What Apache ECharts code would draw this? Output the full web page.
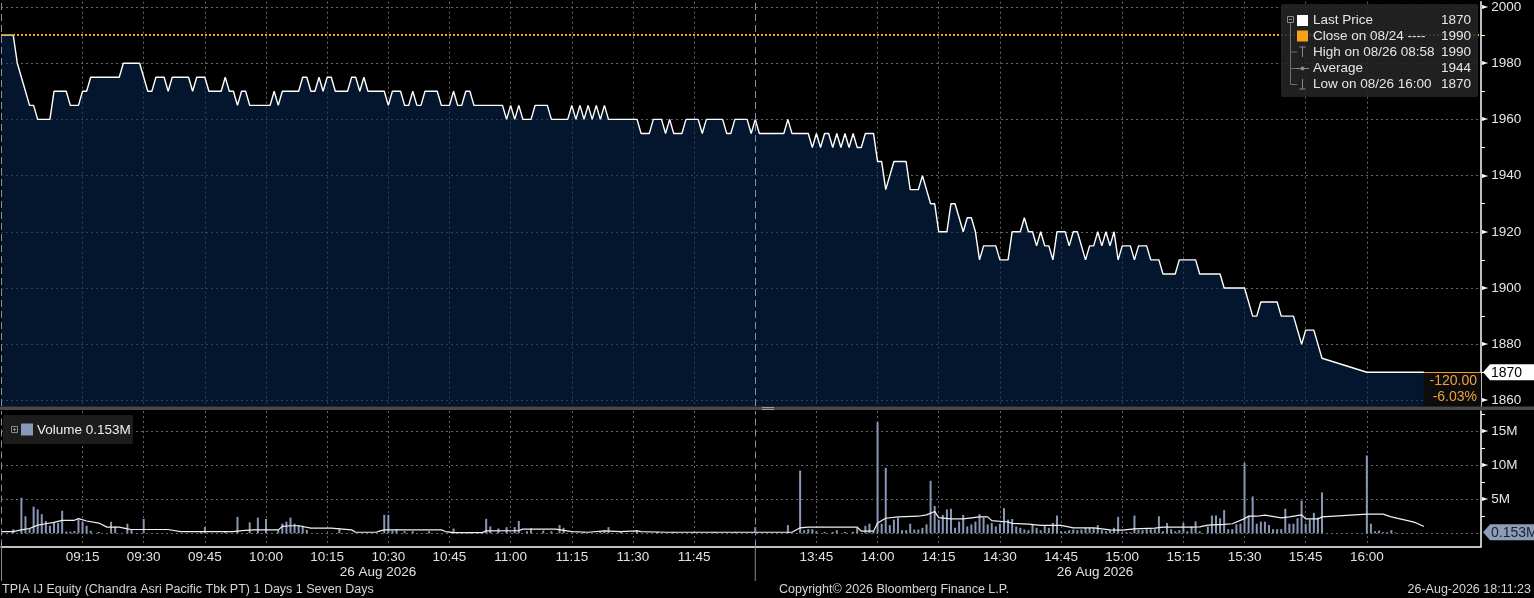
<!DOCTYPE html>
<html>
<head>
<meta charset="utf-8">
<script src="https://cdn.jsdelivr.net/npm/echarts@6.0.0/dist/echarts.min.js"></script>
<style>
    html, body { margin: 0; padding: 0; background: #000; }
    #chart { width: 1534px; height: 598px; }
</style>
</head>
<body>
<div id="chart"></div>
<script type="text/javascript">
    // trading sessions (lunch break removed from the axis)
    var sessions = [['08:55', '11:59'], ['13:30', '16:28']];
    var tickLabels = ['09:15','09:30','09:45','10:00','10:15','10:30','10:45','11:00','11:15','11:30','11:45',
                      '13:45','14:00','14:15','14:30','14:45','15:00','15:15','15:30','15:45','16:00'];

    var prevClose = 1990, lastPrice = 1870, avgPrice = 1944, lastVolume = 0.153;

    // last price, morning session
    var priceAM = [['08:55',1990],['08:58',1990],['08:59',1980],['09:00',1975],['09:01',1970],['09:02',1965],['09:03',1965],
        ['09:04',1960],['09:07',1960],['09:08',1970],['09:11',1970],['09:12',1965],['09:14',1965],['09:15',1970],['09:16',1970],
        ['09:17',1975],['09:24',1975],['09:25',1980],['09:29',1980],['09:30',1975],['09:31',1970],['09:32',1970],['09:33',1975],
        ['09:35',1975],['09:36',1970],['09:37',1975],['09:41',1975],['09:42',1970],['09:43',1975],['09:45',1975],['09:46',1970],
        ['09:49',1970],['09:50',1975],['09:51',1970],['09:52',1970],['09:53',1965],['09:54',1970],['09:55',1970],['09:56',1965],
        ['10:01',1965],['10:02',1970],['10:03',1965],['10:04',1970],['10:08',1970],['10:09',1975],['10:10',1975],['10:11',1970],
        ['10:12',1970],['10:13',1975],['10:14',1970],['10:15',1975],['10:16',1975],['10:17',1970],['10:20',1970],['10:21',1975],
        ['10:22',1975],['10:23',1970],['10:24',1975],['10:25',1970],['10:29',1970],['10:30',1965],['10:31',1970],['10:33',1970],
        ['10:34',1965],['10:35',1965],['10:36',1970],['10:37',1965],['10:38',1965],['10:39',1970],['10:42',1970],['10:43',1965],
        ['10:45',1965],['10:46',1970],['10:47',1965],['10:48',1965],['10:49',1970],['10:50',1970],['10:51',1965],['10:58',1965],
        ['10:59',1960],['11:00',1965],['11:01',1960],['11:02',1965],['11:03',1960],['11:05',1960],['11:06',1965],['11:09',1965],
        ['11:10',1960],['11:14',1960],['11:15',1965],['11:16',1960],['11:17',1965],['11:18',1960],['11:19',1965],['11:20',1960],
        ['11:21',1965],['11:22',1960],['11:23',1965],['11:24',1960],['11:31',1960],['11:32',1955],['11:34',1955],['11:35',1960],
        ['11:37',1960],['11:38',1955],['11:39',1960],['11:40',1955],['11:42',1955],['11:43',1960],['11:46',1960],['11:47',1955],
        ['11:48',1960],['11:52',1960],['11:53',1955],['11:54',1955],['11:55',1960],['11:58',1960],['11:59',1955]];

    // last price, afternoon session
    var pricePM = [['13:30',1960],['13:31',1955],['13:37',1955],['13:38',1960],['13:39',1955],['13:43',1955],['13:44',1950],
        ['13:45',1955],['13:46',1950],['13:47',1955],['13:48',1955],['13:49',1950],['13:50',1955],['13:51',1950],['13:52',1955],
        ['13:53',1950],['13:54',1955],['13:55',1950],['13:56',1950],['13:57',1955],['13:59',1955],['14:00',1945],['14:01',1945],
        ['14:02',1935],['14:04',1945],['14:07',1945],['14:08',1935],['14:10',1935],['14:11',1940],['14:13',1930],['14:14',1930],
        ['14:15',1920],['14:17',1920],['14:18',1930],['14:19',1930],['14:21',1920],['14:22',1925],['14:23',1925],['14:24',1920],
        ['14:25',1910],['14:26',1915],['14:29',1915],['14:30',1910],['14:32',1910],['14:33',1920],['14:35',1920],['14:36',1925],
        ['14:37',1920],['14:38',1920],['14:39',1915],['14:40',1920],['14:41',1915],['14:42',1915],['14:43',1910],['14:44',1920],
        ['14:46',1920],['14:47',1915],['14:48',1920],['14:49',1920],['14:51',1910],['14:52',1915],['14:53',1915],['14:54',1920],
        ['14:55',1915],['14:56',1920],['14:57',1915],['14:58',1920],['14:59',1910],['15:00',1915],['15:02',1915],['15:03',1910],
        ['15:04',1915],['15:06',1915],['15:07',1910],['15:09',1910],['15:10',1905],['15:13',1905],['15:14',1910],['15:18',1910],
        ['15:19',1905],['15:24',1905],['15:25',1900],['15:30',1900],['15:32',1890],['15:33',1890],['15:34',1895],['15:38',1895],
        ['15:39',1890],['15:42',1890],['15:44',1880],['15:45',1885],['15:47',1885],['15:49',1875],['16:00',1870],['16:14',1870]];

    // volume per minute, millions of shares
    var volumeAM = [['08:58',0.6],['09:00',5.2],['09:01',2.5],['09:02',0.7],['09:03',3.9],['09:04',3.5],['09:05',2.8],
        ['09:06',1.8],['09:07',1.1],['09:08',1.5],['09:09',1.5],['09:10',3.3],['09:11',0.25],['09:12',0.25],['09:13',0.35],
        ['09:14',2.0],['09:15',1.7],['09:16',1.1],['09:17',0.35],['09:19',0.2],['09:22',1.7],['09:23',1.0],['09:26',1.4],
        ['09:27',0.5],['09:30',2.1],['09:44',0.3],['09:45',0.9],['09:50',0.3],['09:53',2.4],['09:56',1.6],['09:58',2.3],
        ['10:00',2.1],['10:03',0.5],['10:04',1.4],['10:05',1.7],['10:06',2.3],['10:07',1.4],['10:08',1.2],['10:09',1.1],
        ['10:10',0.5],['10:18',0.7],['10:29',2.7],['10:30',2.7],['10:31',0.4],['10:32',0.6],['10:34',0.3],['10:36',0.3],
        ['10:40',0.3],['10:46',0.7],['10:50',0.2],['10:54',2.1],['10:55',1.0],['10:57',0.7],['10:59',0.9],['11:01',0.9],
        ['11:02',1.8],['11:04',0.3],['11:05',0.7],['11:08',0.4],['11:10',0.3],['11:12',1.2],['11:13',0.8],['11:18',0.2],
        ['11:22',0.3],['11:23',0.4],['11:24',0.9],['11:27',0.2],['11:31',0.4],['11:36',0.2],['11:40',0.2],['11:45',0.2],
        ['11:50',0.2],['11:55',0.2]];

    var volumePM = [['13:30',0.9],['13:38',1.2],['13:41',9.2],['13:42',0.45],['13:43',0.6],['13:44',0.6],['13:45',0.3],
        ['13:47',0.2],['13:49',0.2],['13:50',0.45],['13:52',0.2],['13:54',0.2],['13:55',0.8],['13:57',1.1],['13:58',1.4],
        ['13:59',0.3],['14:00',16.3],['14:01',1.4],['14:02',9.6],['14:03',1.2],['14:04',2.0],['14:05',2.3],['14:06',0.45],
        ['14:07',0.45],['14:08',1.4],['14:09',0.55],['14:10',0.55],['14:11',0.8],['14:12',1.3],['14:13',7.7],['14:14',4.0],
        ['14:15',2.0],['14:16',2.7],['14:17',3.5],['14:18',3.6],['14:19',0.8],['14:20',1.7],['14:21',2.7],['14:22',1.0],
        ['14:23',1.3],['14:24',1.7],['14:25',2.8],['14:26',2.3],['14:27',1.3],['14:28',1.5],['14:29',1.0],['14:30',1.4],
        ['14:31',3.7],['14:32',2.0],['14:33',2.1],['14:34',1.0],['14:35',0.8],['14:36',0.55],['14:37',0.45],['14:38',1.3],
        ['14:39',0.8],['14:40',0.45],['14:41',1.2],['14:42',0.8],['14:43',1.5],['14:44',2.6],['14:45',0.3],['14:46',0.3],
        ['14:47',0.45],['14:48',0.55],['14:49',0.45],['14:50',0.55],['14:51',0.8],['14:52',0.8],['14:53',0.8],['14:54',1.2],
        ['14:55',0.45],['14:56',0.3],['14:57',0.45],['14:58',0.8],['14:59',2.4],['15:00',0.1],['15:01',0.15],['15:02',0.15],
        ['15:03',2.6],['15:04',0.45],['15:05',0.45],['15:06',0.6],['15:07',0.6],['15:08',0.6],['15:09',2.5],['15:10',0.3],
        ['15:11',1.5],['15:12',0.6],['15:13',0.3],['15:14',0.45],['15:15',1.5],['15:16',0.3],['15:17',1.0],['15:18',1.75],
        ['15:19',0.3],['15:20',0.05],['15:21',1.0],['15:22',2.6],['15:23',2.6],['15:24',2.2],['15:25',3.4],['15:26',0.6],
        ['15:27',0.6],['15:28',1.3],['15:29',1.4],['15:30',10.3],['15:31',2.6],['15:32',5.4],['15:33',1.4],['15:34',1.7],
        ['15:35',1.7],['15:36',1.2],['15:37',0.6],['15:38',0.6],['15:39',0.6],['15:40',3.6],['15:41',1.4],['15:42',1.4],
        ['15:43',2.2],['15:44',4.8],['15:45',1.4],['15:46',2.0],['15:47',3.0],['15:48',2.3],['15:49',6.0],['16:00',11.4],
        ['16:01',1.4],['16:02',0.3],['16:03',0.4],['16:04',0.15],['16:05',0.15],['16:06',0.45],['16:07',0.1],['16:09',0.05],
        ['16:11',0.05],['16:13',0.05]];

    // volume average line, millions
    var volAvgAM = [['08:55',0.25],['08:58',0.25],['09:00',0.5],['09:02',0.7],['09:04',1.2],['09:06',1.4],['09:08',1.6],
        ['09:10',1.9],['09:13',1.9],['09:14',2.15],['09:16',1.8],['09:19',1.5],['09:21',0.9],['09:24',0.9],['09:26',0.65],
        ['09:27',0.55],['09:36',0.55],['09:39',0.25],['09:52',0.25],['09:54',0.4],['09:57',0.5],['10:03',0.5],['10:04',1.0],
        ['10:06',1.1],['10:08',1.1],['10:11',0.75],['10:16',0.75],['10:21',0.5],['10:22',0.15],['10:27',0.15],['10:28',0.35],
        ['10:29',0.5],['10:43',0.5],['10:44',0.25],['10:46',0.1],['10:53',0.1],['10:54',0.35],['11:02',0.4],['11:03',0.6],
        ['11:11',0.6],['11:15',0.25],['11:19',0.15],['11:23',0.35],['11:27',0.25],['11:31',0.35],['11:32',0.25],['11:38',0.15],
        ['11:59',0.15]];

    var volAvgPM = [['13:30',0.15],['13:39',0.15],['13:41',0.8],['13:43',0.9],['13:55',0.9],['13:56',0.3],['13:59',0.3],
        ['14:00',1.5],['14:02',2.2],['14:05',2.4],['14:10',2.5],['14:12',2.7],['14:14',3.2],['14:15',2.3],['14:18',2.1],
        ['14:21',2.1],['14:25',2.4],['14:27',2.4],['14:28',1.85],['14:32',1.65],['14:33',1.45],['14:37',1.35],['14:40',1.15],
        ['14:45',1.15],['14:48',0.8],['14:53',0.8],['14:57',0.5],['15:00',0.45],['15:03',0.65],['15:08',0.75],['15:10',0.9],
        ['15:17',0.9],['15:19',0.95],['15:21',1.2],['15:25',1.3],['15:27',1.4],['15:30',2.15],['15:31',2.5],['15:33',2.5],
        ['15:35',2.65],['15:39',2.25],['15:41',2.4],['15:44',2.7],['15:45',2.1],['15:48',2.1],['15:49',2.4],['16:00',2.8],
        ['16:04',2.8],['16:06',2.4],['16:10',1.85],['16:12',1.55],['16:14',1.0]];

    var FONT = 'Liberation Sans';
    var GRID_COLOR = '#666666';
    var BREAK_COLOR = '#8391a8';
    var VOL_COLOR = '#8797b5';
    var ORANGE = '#f7a11a';

    function toMinutes(s) { var p = s.split(':'); return +p[0] * 60 + +p[1]; }
    function toLabel(m) {
        var h = Math.floor(m / 60), mm = m % 60;
        return (h < 10 ? '0' : '') + h + ':' + (mm < 10 ? '0' : '') + mm;
    }
    var categories = [];
    sessions.forEach(function (s) {
        for (var m = toMinutes(s[0]); m <= toMinutes(s[1]); m++) categories.push(toLabel(m));
    });
    var lastTime = pricePM[pricePM.length - 1][0];
    var endTime = categories[categories.length - 1];

    function millions(list) { return list.map(function (d) { return [d[0], d[1] * 1e6]; }); }
    function isTick(i, v) { return tickLabels.indexOf(v) >= 0; }
    function tri(v) { return '{t|\u25BA}{v|' + v + '}'; }

    var axisRich = {
        t: { fontSize: 8, color: '#fff', fontFamily: 'DejaVu Sans', padding: [0, 3, 0, 0] },
        v: { fontSize: 13.5, color: '#e6e6e6', fontFamily: FONT }
    };
    var dashed = { color: GRID_COLOR, type: [2, 3], width: 1 };
    var breakLine = { color: BREAK_COLOR, type: [7, 4], width: 1 };

    var chart = echarts.init(document.getElementById('chart'));
    chart.setOption({
        backgroundColor: '#000',
        animation: false,
        textStyle: { fontFamily: FONT },
        grid: [
            { left: 1, right: 53, top: 0, height: 406 },
            { left: 1, right: 53, top: 411, height: 135.5 }
        ],
        xAxis: [
            {
                type: 'category', gridIndex: 0, data: categories, boundaryGap: false,
                axisLine: { show: false }, axisTick: { show: false }, axisLabel: { show: false },
                splitLine: { show: true, interval: isTick, lineStyle: dashed }
            },
            {
                type: 'category', gridIndex: 1, data: categories, boundaryGap: false,
                axisLine: { show: true, onZero: false, lineStyle: { color: '#fff', width: 1.5 } },
                axisTick: { show: false },
                axisLabel: { interval: isTick, color: '#e0e0e0', fontSize: 13.5, fontFamily: FONT, margin: 4 },
                splitLine: { show: true, interval: isTick, lineStyle: dashed }
            }
        ],
        yAxis: [
            {
                type: 'value', gridIndex: 0, position: 'right', min: 1858, max: 2001.9, splitNumber: 7,
                axisLine: { show: true, lineStyle: { color: '#fff', width: 1.5 } },
                axisTick: { show: false },
                minorTick: { show: true, splitNumber: 2, length: 4, lineStyle: { color: '#fff' } },
                axisLabel: { showMinLabel: false, showMaxLabel: false, margin: 1, formatter: tri, rich: axisRich },
                splitLine: { show: true, showMinLine: false, showMaxLine: false, lineStyle: dashed }
            },
            {
                type: 'value', gridIndex: 1, position: 'right', min: -1.94e6, max: 17.93e6, splitNumber: 4,
                axisLine: { show: true, lineStyle: { color: '#fff', width: 1.5 } },
                axisTick: { show: false },
                minorTick: { show: true, splitNumber: 2, length: 4, lineStyle: { color: '#fff' } },
                axisLabel: {
                    showMinLabel: false, showMaxLabel: false, margin: 1, rich: axisRich,
                    formatter: function (v) { return v === 0 ? '' : tri(v / 1e6 + 'M'); }
                },
                splitLine: { show: true, showMinLine: false, showMaxLine: false, lineStyle: dashed }
            }
        ],
        series: [
            {
                name: 'Last Price', type: 'line', xAxisIndex: 0, yAxisIndex: 0,
                data: priceAM.concat(pricePM),
                symbol: 'none', z: 3,
                lineStyle: { color: '#ffffff', width: 1.4 },
                areaStyle: { color: 'rgba(5,38,78,0.82)', origin: 'start' },
                markLine: {
                    silent: true, symbol: ['none', 'none'], label: { show: false },
                    data: [
                        { yAxis: prevClose, lineStyle: { color: ORANGE, type: [2, 2], width: 2 } },
                        { xAxis: categories[0], lineStyle: breakLine },
                        { xAxis: sessions[1][0], lineStyle: breakLine },
                        [
                            { coord: [lastTime, lastPrice], lineStyle: { color: ORANGE, type: 'solid', width: 1.2 } },
                            { coord: [endTime, lastPrice], lineStyle: { color: ORANGE, type: 'solid', width: 1.2 } }
                        ]
                    ]
                },
                markArea: {
                    silent: true,
                    data: [[
                        {
                            coord: [lastTime, 1858], itemStyle: { color: '#0c0c0c' },
                            label: {
                                show: true, position: 'insideRight', distance: 4,
                                color: '#eea13a', fontSize: 14, fontFamily: FONT, lineHeight: 16, align: 'right',
                                formatter: (lastPrice - prevClose).toFixed(2) + '\n' +
                                    ((lastPrice - prevClose) / prevClose * 100).toFixed(2) + '%'
                            }
                        },
                        { coord: [endTime, lastPrice] }
                    ]]
                }
            },
            {
                name: 'Volume', type: 'bar', xAxisIndex: 1, yAxisIndex: 1,
                data: millions(volumeAM.concat(volumePM)),
                barWidth: 2, itemStyle: { color: VOL_COLOR },
                markLine: {
                    silent: true, symbol: ['none', 'none'], label: { show: false },
                    data: [
                        { xAxis: categories[0], lineStyle: breakLine },
                        { xAxis: sessions[1][0], lineStyle: breakLine }
                    ]
                }
            },
            {
                name: 'Average', type: 'line', xAxisIndex: 1, yAxisIndex: 1,
                data: millions(volAvgAM.concat(volAvgPM)),
                symbol: 'none', z: 4,
                lineStyle: { color: '#f2f2f2', width: 1.2 }
            }
        ]
    });

    // overlays: tags, legends, footer
    var axisX = chart.convertToPixel({ xAxisIndex: 0 }, endTime);
    var breakX = chart.convertToPixel({ xAxisIndex: 1 }, sessions[1][0]);
    var lastY = chart.convertToPixel({ yAxisIndex: 0 }, lastPrice);
    var volY = chart.convertToPixel({ yAxisIndex: 1 }, lastVolume * 1e6);

    function tag(y, fill, textFill, text) {
        return [
            { type: 'polygon', z: 20, shape: { points: [[axisX + 2, y], [axisX + 9, y - 8], [1534, y - 8], [1534, y + 8], [axisX + 9, y + 8]] },
              style: { fill: fill } },
            { type: 'text', z: 21, x: axisX + 10, y: y + 0.5, style: { text: text, fill: textFill, font: '14px ' + FONT, verticalAlign: 'middle' } }
        ];
    }
    function txt(x, y, s, opt) {
        opt = opt || {};
        return { type: 'text', z: 21, x: x, y: y, style: { text: s, fill: opt.fill || '#e6e6e6', font: (opt.size || 13.5) + 'px ' + FONT,
            verticalAlign: 'middle', align: opt.align || 'left' } };
    }
    function seg(x1, y1, x2, y2, color, w) {
        return { type: 'line', z: 21, shape: { x1: x1, y1: y1, x2: x2, y2: y2 }, style: { stroke: color, lineWidth: w || 1 } };
    }

    var rows = [20.5, 36, 52, 68.5, 84];
    var legendNames = ['Last Price', 'Close on 08/24 ----', 'High on 08/26 08:58', 'Average', 'Low on 08/26 16:00'];
    var legendValues = [lastPrice, prevClose, prevClose, avgPrice, lastPrice];

    var g = [
        // pane separator
        { type: 'rect', z: 15, shape: { x: 0, y: 406.5, width: 1534, height: 3.5 }, style: { fill: '#4a4a4a' } },
        { type: 'rect', z: 16, shape: { x: 762, y: 407, width: 12, height: 1 }, style: { fill: '#9a9a9a' } },
        { type: 'rect', z: 16, shape: { x: 762, y: 409, width: 12, height: 1 }, style: { fill: '#9a9a9a' } },
        // session dividers under the time axis
        seg(breakX, 547, breakX, 581, '#8a8a8a'),
        seg(1.5, 547, 1.5, 581, '#8a8a8a'),
        txt(378, 572, '26 Aug 2026', { align: 'center', size: 13.5, fill: '#e0e0e0' }),
        txt(1095, 572, '26 Aug 2026', { align: 'center', size: 13.5, fill: '#e0e0e0' }),
        // footer
        txt(2, 590, 'TPIA IJ Equity (Chandra Asri Pacific Tbk PT) 1 Days 1 Seven Days', { size: 12.5, fill: '#d6d6d6' }),
        txt(779, 590, 'Copyright\u00A9 2026 Bloomberg Finance L.P.', { size: 12.5, fill: '#d6d6d6' }),
        txt(1531, 590, '26-Aug-2026 18:11:23', { size: 12.5, fill: '#d6d6d6', align: 'right' }),
        // price legend box
        { type: 'rect', z: 18, shape: { x: 1281, y: 4, width: 197, height: 93, r: 2 }, style: { fill: 'rgba(36,36,36,0.88)' } },
        { type: 'rect', z: 21, shape: { x: 1287.5, y: 16.5, width: 6, height: 6 }, style: { fill: 'none', stroke: '#8a8a8a' } },
        seg(1289, 19.5, 1292, 19.5, '#8a8a8a'),
        seg(1290.5, 23, 1290.5, 84.5, '#6f6f6f'),
        seg(1290.5, 52, 1297, 52, '#6f6f6f'),
        seg(1290.5, 68.5, 1296, 68.5, '#6f6f6f'),
        seg(1290.5, 84.5, 1297, 84.5, '#6f6f6f'),
        { type: 'rect', z: 21, shape: { x: 1297, y: 15, width: 11, height: 11 }, style: { fill: '#ffffff' } },
        { type: 'rect', z: 21, shape: { x: 1297, y: 30.5, width: 11, height: 11 }, style: { fill: ORANGE } },
        seg(1302.5, 47, 1302.5, 57, '#8a8a8a'), seg(1299.5, 47, 1305.5, 47, '#8a8a8a'),
        seg(1296, 68.5, 1309, 68.5, '#8a8a8a'),
        { type: 'circle', z: 22, shape: { cx: 1302.5, cy: 68.5, r: 2 }, style: { fill: '#8a8a8a' } },
        seg(1302.5, 79, 1302.5, 89, '#8a8a8a'), seg(1299.5, 89, 1305.5, 89, '#8a8a8a'),
        // volume legend box
        { type: 'rect', z: 18, shape: { x: 3, y: 415, width: 130, height: 29, r: 2 }, style: { fill: 'rgba(30,30,30,0.92)' } },
        { type: 'rect', z: 21, shape: { x: 11.5, y: 426.5, width: 6, height: 6 }, style: { fill: 'none', stroke: '#8a8a8a' } },
        seg(13, 429.5, 16, 429.5, '#8a8a8a'), seg(14.5, 428, 14.5, 431, '#8a8a8a'),
        { type: 'rect', z: 21, shape: { x: 21, y: 423.5, width: 12, height: 12 }, style: { fill: VOL_COLOR } },
        txt(37, 430, 'Volume ' + lastVolume + 'M', { fill: '#eeeeee' })
    ];
    legendNames.forEach(function (n, i) {
        g.push(txt(1313, rows[i], n));
        g.push(txt(1471, rows[i], String(legendValues[i]), { align: 'right' }));
    });
    g = g.concat(tag(lastY, '#ffffff', '#000000', String(lastPrice)));
    g = g.concat(tag(volY, '#8c9cb9', '#18212f', lastVolume + 'M'));

    chart.setOption({ graphic: g });
</script>
</body>
</html>
